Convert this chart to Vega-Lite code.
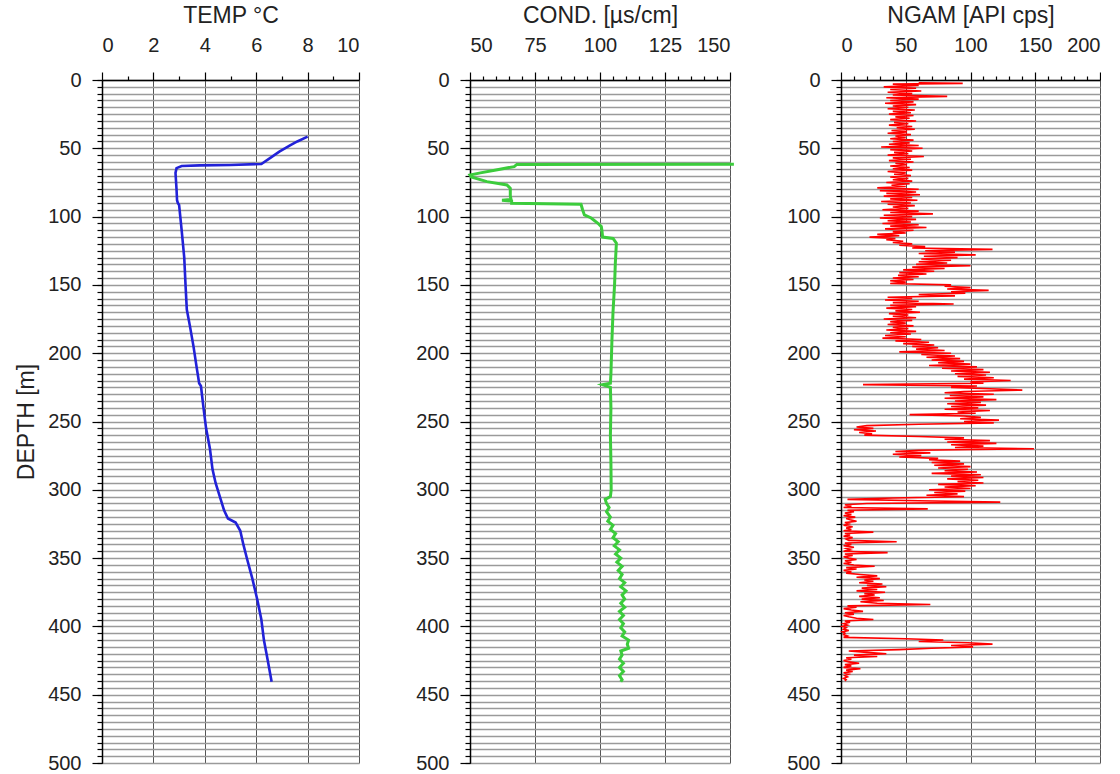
{
"$schema": "https://vega.github.io/schema/vega-lite/v6.json",
"background": "white",
"padding": {"left": 15, "top": 4, "right": 0, "bottom": 5},
"config": {"view": {"stroke": null}, "font": "Liberation Sans",
  "axis": {"domainColor": "#000", "tickColor": "#000", "labelColor": "#222", "titleColor": "#222", "labelFont": "Liberation Sans", "titleFont": "Liberation Sans", "titleFontWeight": "normal", "labelFontSize": 20, "titleFontSize": 23, "domainWidth": 1.5, "tickWidth": 1.2}},
"datasets": {
"temp": [{"d":41.5,"v":8.0},{"d":45,"v":7.6},{"d":48,"v":7.3},{"d":52.5,"v":6.9},{"d":57,"v":6.55},{"d":61.5,"v":6.2},{"d":62.2,"v":5.0},{"d":62.5,"v":3.8},{"d":63,"v":3.1},{"d":64.5,"v":2.9},{"d":68,"v":2.86},{"d":80,"v":2.9},{"d":88,"v":2.92},{"d":90,"v":2.95},{"d":91.5,"v":3.0},{"d":110,"v":3.1},{"d":130,"v":3.2},{"d":150,"v":3.25},{"d":168,"v":3.3},{"d":180,"v":3.42},{"d":195,"v":3.56},{"d":210,"v":3.68},{"d":222,"v":3.78},{"d":224,"v":3.85},{"d":240,"v":3.95},{"d":255,"v":4.05},{"d":270,"v":4.2},{"d":285,"v":4.3},{"d":295,"v":4.42},{"d":304,"v":4.57},{"d":315,"v":4.75},{"d":321,"v":4.9},{"d":324,"v":5.2},{"d":330,"v":5.38},{"d":340,"v":5.5},{"d":351,"v":5.65},{"d":365,"v":5.85},{"d":381,"v":6.05},{"d":395,"v":6.2},{"d":410,"v":6.3},{"d":425,"v":6.45},{"d":440.5,"v":6.6}],
"cond": [{"d":61.6,"v":151.5},{"d":61.8,"v":68},{"d":63.4,"v":67},{"d":65.9,"v":60},{"d":68,"v":54},{"d":69.5,"v":50},{"d":71,"v":50.5},{"d":74.4,"v":56.5},{"d":76.8,"v":64.2},{"d":79.3,"v":65.5},{"d":85,"v":65.5},{"d":87.5,"v":65.8},{"d":88,"v":62.3},{"d":88.6,"v":66},{"d":90.2,"v":66},{"d":91,"v":92.7},{"d":95,"v":93.3},{"d":98.8,"v":94},{"d":101,"v":96.6},{"d":104.9,"v":99.2},{"d":107.3,"v":100.5},{"d":111,"v":100.8},{"d":115,"v":101},{"d":116,"v":105},{"d":119.5,"v":106.3},{"d":134,"v":105.9},{"d":150,"v":105.6},{"d":170,"v":105},{"d":190,"v":104.6},{"d":215,"v":104.2},{"d":222,"v":104},{"d":223,"v":101},{"d":225,"v":104},{"d":240,"v":104.2},{"d":260,"v":104},{"d":280,"v":104.2},{"d":300,"v":104.3},{"d":305,"v":104},{"d":307,"v":102},{"d":310,"v":102.5},{"d":313,"v":103.5},{"d":316,"v":102.5},{"d":320,"v":104},{"d":323,"v":103},{"d":326,"v":105},{"d":329,"v":104},{"d":332,"v":106},{"d":335,"v":105},{"d":338,"v":107},{"d":341,"v":105.5},{"d":344,"v":107.5},{"d":347,"v":106},{"d":350,"v":108},{"d":353,"v":106.5},{"d":356,"v":108.5},{"d":359,"v":107},{"d":362,"v":108.5},{"d":365,"v":107.5},{"d":368,"v":109.5},{"d":371,"v":108},{"d":374,"v":110},{"d":377,"v":108.5},{"d":380,"v":109.5},{"d":383,"v":108},{"d":386,"v":109.5},{"d":389,"v":107.5},{"d":392,"v":109},{"d":395,"v":107.5},{"d":398,"v":109},{"d":401,"v":108},{"d":404,"v":109.5},{"d":407,"v":108.5},{"d":410,"v":111},{"d":413,"v":110.5},{"d":416,"v":111},{"d":418,"v":108},{"d":421,"v":108.5},{"d":424,"v":107.5},{"d":427,"v":109},{"d":430,"v":107.5},{"d":433,"v":109},{"d":436,"v":107.5},{"d":439,"v":108.5},{"d":440.5,"v":108}],
"ngam": [{"d":2,"v":60},{"d":2.5,"v":94},{"d":3,"v":40},{"d":4,"v":60},{"d":5,"v":33},{"d":6,"v":58},{"d":7,"v":38},{"d":8,"v":62},{"d":9,"v":36},{"d":10,"v":55},{"d":11,"v":40},{"d":12,"v":82},{"d":13,"v":35},{"d":14,"v":60},{"d":15,"v":38},{"d":16,"v":56},{"d":17,"v":34},{"d":18,"v":58},{"d":19,"v":40},{"d":20,"v":52},{"d":21,"v":36},{"d":22,"v":57},{"d":23,"v":40},{"d":24,"v":54},{"d":25,"v":37},{"d":26,"v":56},{"d":27,"v":42},{"d":28,"v":53},{"d":29,"v":38},{"d":30,"v":58},{"d":31,"v":41},{"d":32,"v":52},{"d":33,"v":37},{"d":34,"v":55},{"d":35,"v":43},{"d":36,"v":57},{"d":37,"v":39},{"d":38,"v":51},{"d":39,"v":36},{"d":40,"v":54},{"d":41,"v":42},{"d":42,"v":50},{"d":43,"v":38},{"d":44,"v":56},{"d":45,"v":40},{"d":46,"v":53},{"d":47,"v":37},{"d":48,"v":60},{"d":49,"v":31},{"d":50,"v":63},{"d":51,"v":38},{"d":52,"v":55},{"d":53,"v":41},{"d":54,"v":52},{"d":55,"v":36},{"d":56,"v":64},{"d":57,"v":40},{"d":58,"v":54},{"d":59,"v":37},{"d":60,"v":56},{"d":61,"v":42},{"d":62,"v":51},{"d":63,"v":38},{"d":64,"v":53},{"d":65,"v":40},{"d":66,"v":55},{"d":67,"v":36},{"d":68,"v":50},{"d":69,"v":41},{"d":70,"v":54},{"d":71,"v":38},{"d":72,"v":52},{"d":73,"v":40},{"d":74,"v":55},{"d":75,"v":35},{"d":76,"v":53},{"d":77,"v":39},{"d":78,"v":50},{"d":79,"v":28},{"d":80,"v":60},{"d":81,"v":30},{"d":82,"v":58},{"d":83,"v":35},{"d":84,"v":61},{"d":85,"v":33},{"d":86,"v":55},{"d":87,"v":38},{"d":88,"v":59},{"d":89,"v":31},{"d":90,"v":54},{"d":91,"v":36},{"d":92,"v":57},{"d":93,"v":40},{"d":94,"v":52},{"d":95,"v":32},{"d":96,"v":60},{"d":97,"v":38},{"d":98,"v":71},{"d":99,"v":33},{"d":100,"v":55},{"d":101,"v":30},{"d":102,"v":58},{"d":103,"v":36},{"d":104,"v":54},{"d":105,"v":32},{"d":106,"v":60},{"d":107,"v":38},{"d":108,"v":66},{"d":109,"v":34},{"d":110,"v":56},{"d":111,"v":40},{"d":112,"v":50},{"d":113,"v":28},{"d":114,"v":45},{"d":115,"v":22},{"d":116,"v":42},{"d":117,"v":35},{"d":118,"v":48},{"d":119,"v":40},{"d":120,"v":55},{"d":121,"v":45},{"d":122,"v":65},{"d":123,"v":55},{"d":124,"v":117},{"d":125,"v":65},{"d":126,"v":88},{"d":127,"v":60},{"d":128,"v":104},{"d":129,"v":64},{"d":130,"v":90},{"d":131,"v":62},{"d":132,"v":85},{"d":133,"v":60},{"d":134,"v":82},{"d":135,"v":58},{"d":136,"v":100},{"d":137,"v":55},{"d":138,"v":80},{"d":139,"v":48},{"d":140,"v":72},{"d":141,"v":45},{"d":142,"v":66},{"d":143,"v":44},{"d":144,"v":60},{"d":145,"v":40},{"d":146,"v":56},{"d":147,"v":38},{"d":148,"v":50},{"d":149,"v":38},{"d":150,"v":85},{"d":151,"v":80},{"d":152,"v":100},{"d":153,"v":82},{"d":154,"v":114},{"d":155,"v":85},{"d":156,"v":96},{"d":157,"v":60},{"d":158,"v":88},{"d":159,"v":36},{"d":160,"v":55},{"d":161,"v":34},{"d":162,"v":60},{"d":163,"v":40},{"d":164,"v":87},{"d":165,"v":38},{"d":166,"v":58},{"d":167,"v":35},{"d":168,"v":55},{"d":169,"v":42},{"d":170,"v":61},{"d":171,"v":37},{"d":172,"v":52},{"d":173,"v":40},{"d":174,"v":58},{"d":175,"v":33},{"d":176,"v":55},{"d":177,"v":38},{"d":178,"v":50},{"d":179,"v":36},{"d":180,"v":56},{"d":181,"v":40},{"d":182,"v":52},{"d":183,"v":35},{"d":184,"v":58},{"d":185,"v":38},{"d":186,"v":54},{"d":187,"v":34},{"d":188,"v":50},{"d":189,"v":32},{"d":190,"v":62},{"d":191,"v":42},{"d":192,"v":68},{"d":193,"v":48},{"d":194,"v":72},{"d":195,"v":55},{"d":196,"v":75},{"d":197,"v":58},{"d":198,"v":80},{"d":199,"v":45},{"d":200,"v":85},{"d":201,"v":62},{"d":202,"v":88},{"d":203,"v":66},{"d":204,"v":92},{"d":205,"v":70},{"d":206,"v":95},{"d":207,"v":75},{"d":208,"v":100},{"d":209,"v":68},{"d":210,"v":105},{"d":211,"v":78},{"d":212,"v":110},{"d":213,"v":85},{"d":214,"v":115},{"d":215,"v":88},{"d":216,"v":112},{"d":217,"v":90},{"d":218,"v":118},{"d":219,"v":95},{"d":220,"v":131},{"d":221,"v":100},{"d":222,"v":110},{"d":223,"v":17},{"d":224,"v":105},{"d":225,"v":85},{"d":226,"v":115},{"d":227,"v":140},{"d":228,"v":95},{"d":229,"v":80},{"d":230,"v":118},{"d":231,"v":84},{"d":232,"v":110},{"d":233,"v":80},{"d":234,"v":120},{"d":235,"v":88},{"d":236,"v":108},{"d":237,"v":82},{"d":238,"v":112},{"d":239,"v":85},{"d":240,"v":106},{"d":241,"v":80},{"d":242,"v":115},{"d":243,"v":90},{"d":244,"v":104},{"d":245,"v":53},{"d":246,"v":95},{"d":247,"v":108},{"d":248,"v":92},{"d":249,"v":122},{"d":250,"v":95},{"d":251,"v":118},{"d":252,"v":60},{"d":253,"v":20},{"d":254,"v":12},{"d":255,"v":25},{"d":256,"v":10},{"d":257,"v":27},{"d":258,"v":14},{"d":259,"v":24},{"d":260,"v":18},{"d":261,"v":60},{"d":262,"v":95},{"d":263,"v":80},{"d":264,"v":115},{"d":265,"v":82},{"d":266,"v":120},{"d":267,"v":85},{"d":268,"v":110},{"d":269,"v":88},{"d":270,"v":149},{"d":271,"v":60},{"d":272,"v":42},{"d":273,"v":69},{"d":274,"v":40},{"d":275,"v":62},{"d":276,"v":45},{"d":277,"v":75},{"d":278,"v":68},{"d":279,"v":92},{"d":280,"v":70},{"d":281,"v":95},{"d":282,"v":72},{"d":283,"v":100},{"d":284,"v":75},{"d":285,"v":98},{"d":286,"v":80},{"d":287,"v":105},{"d":288,"v":70},{"d":289,"v":108},{"d":290,"v":85},{"d":291,"v":110},{"d":292,"v":82},{"d":293,"v":106},{"d":294,"v":90},{"d":295,"v":110},{"d":296,"v":75},{"d":297,"v":104},{"d":298,"v":80},{"d":299,"v":100},{"d":300,"v":68},{"d":301,"v":96},{"d":302,"v":72},{"d":303,"v":90},{"d":304,"v":66},{"d":305,"v":95},{"d":306,"v":40},{"d":307,"v":5},{"d":308,"v":60},{"d":309,"v":123},{"d":310,"v":20},{"d":311,"v":3},{"d":312,"v":8},{"d":313,"v":2},{"d":314,"v":67},{"d":315,"v":5},{"d":316,"v":10},{"d":317,"v":3},{"d":318,"v":8},{"d":319,"v":2},{"d":320,"v":11},{"d":321,"v":4},{"d":322,"v":7},{"d":323,"v":12},{"d":324,"v":3},{"d":325,"v":6},{"d":326,"v":2},{"d":327,"v":9},{"d":328,"v":4},{"d":329,"v":8},{"d":330,"v":2},{"d":331,"v":25},{"d":332,"v":3},{"d":333,"v":7},{"d":334,"v":2},{"d":335,"v":9},{"d":336,"v":4},{"d":337,"v":6},{"d":338,"v":43},{"d":339,"v":3},{"d":340,"v":8},{"d":341,"v":2},{"d":342,"v":10},{"d":343,"v":4},{"d":344,"v":7},{"d":345,"v":2},{"d":346,"v":36},{"d":347,"v":3},{"d":348,"v":9},{"d":349,"v":2},{"d":350,"v":6},{"d":351,"v":12},{"d":352,"v":3},{"d":353,"v":8},{"d":354,"v":2},{"d":355,"v":10},{"d":356,"v":26},{"d":357,"v":4},{"d":358,"v":12},{"d":359,"v":2},{"d":360,"v":8},{"d":361,"v":4},{"d":362,"v":15},{"d":363,"v":28},{"d":364,"v":12},{"d":365,"v":30},{"d":366,"v":18},{"d":367,"v":25},{"d":368,"v":14},{"d":369,"v":32},{"d":370,"v":20},{"d":371,"v":35},{"d":372,"v":16},{"d":373,"v":28},{"d":374,"v":12},{"d":375,"v":34},{"d":376,"v":18},{"d":377,"v":26},{"d":378,"v":14},{"d":379,"v":30},{"d":380,"v":16},{"d":381,"v":33},{"d":382,"v":15},{"d":383,"v":28},{"d":384,"v":69},{"d":385,"v":5},{"d":386,"v":12},{"d":387,"v":2},{"d":388,"v":8},{"d":389,"v":17},{"d":390,"v":3},{"d":391,"v":10},{"d":392,"v":2},{"d":393,"v":6},{"d":394,"v":12},{"d":395,"v":25},{"d":396,"v":3},{"d":397,"v":7},{"d":398,"v":2},{"d":399,"v":5},{"d":400,"v":1},{"d":401,"v":4},{"d":402,"v":2},{"d":403,"v":6},{"d":404,"v":1},{"d":405,"v":3},{"d":406,"v":2},{"d":407,"v":5},{"d":408,"v":2},{"d":409,"v":50},{"d":410,"v":79},{"d":411,"v":60},{"d":412,"v":98},{"d":413,"v":117},{"d":414,"v":85},{"d":415,"v":102},{"d":416,"v":70},{"d":417,"v":45},{"d":418,"v":6},{"d":419,"v":20},{"d":420,"v":35},{"d":421,"v":10},{"d":422,"v":28},{"d":423,"v":4},{"d":424,"v":8},{"d":425,"v":2},{"d":426,"v":6},{"d":427,"v":14},{"d":428,"v":3},{"d":429,"v":8},{"d":430,"v":2},{"d":431,"v":15},{"d":432,"v":4},{"d":433,"v":9},{"d":434,"v":2},{"d":435,"v":6},{"d":436,"v":3},{"d":437,"v":5},{"d":438,"v":2},{"d":439,"v":4},{"d":440,"v":3}]
},
"spacing": 111,
"bounds": "flush",
"hconcat": [
{"width": 257, "height": 683, "data": {"name": "temp"},
 "layer": [
  {"mark": {"type": "line", "opacity": 0},
   "encoding": {
    "x": {"field": "v", "type": "quantitative", "scale": {"domain": [0, 10], "nice": false, "zero": false},
      "axis": {"orient": "top", "values": [1,3,5,7,9], "labels": false, "domain": false, "grid": false, "tickSize": 4, "title": null}},
    "y": {"field": "d", "type": "quantitative", "scale": {"domain": [0, 500], "reverse": true, "nice": false, "zero": false},
      "axis": {"orient": "left", "values": [0,5,10,15,20,25,30,35,40,45,50,55,60,65,70,75,80,85,90,95,100,105,110,115,120,125,130,135,140,145,150,155,160,165,170,175,180,185,190,195,200,205,210,215,220,225,230,235,240,245,250,255,260,265,270,275,280,285,290,295,300,305,310,315,320,325,330,335,340,345,350,355,360,365,370,375,380,385,390,395,400,405,410,415,420,425,430,435,440,445,450,455,460,465,470,475,480,485,490,495,500], "labels": false, "domain": false, "grid": true, "gridColor": "#9a9a9a", "gridWidth": 1.3, "tickSize": 5, "title": null}},
    "order": {"field": "d"}}},
  {"mark": {"type": "line", "color": "#2222d8", "strokeWidth": 2.6},
   "encoding": {
    "x": {"field": "v", "type": "quantitative", "scale": {"domain": [0, 10], "nice": false, "zero": false},
      "axis": {"orient": "top", "values": [0,2,4,6,8,10], "grid": true, "gridColor": "#555", "gridWidth": 1, "tickSize": 8, "labelPadding": 17, "title": "TEMP  °C", "titlePadding": 8}},
    "y": {"field": "d", "type": "quantitative", "scale": {"domain": [0, 500], "reverse": true, "nice": false, "zero": false},
      "axis": {"orient": "left", "values": [0,50,100,150,200,250,300,350,400,450,500], "grid": false, "tickSize": 10, "labelPadding": 11, "title": "DEPTH  [m]", "titlePadding": 9}},
    "order": {"field": "d"}}}
 ],
 "resolve": {"axis": {"x": "independent", "y": "independent"}}
},
{"width": 260, "height": 683, "data": {"name": "cond"},
 "layer": [
  {"mark": {"type": "line", "opacity": 0},
   "encoding": {
    "x": {"field": "v", "type": "quantitative", "scale": {"domain": [50, 150], "nice": false, "zero": false},
      "axis": {"orient": "top", "values": [55,60,65,70,80,85,90,95,105,110,115,120,130,135,140,145], "labels": false, "domain": false, "grid": false, "tickSize": 4, "title": null}},
    "y": {"field": "d", "type": "quantitative", "scale": {"domain": [0, 500], "reverse": true, "nice": false, "zero": false},
      "axis": {"orient": "left", "values": [0,5,10,15,20,25,30,35,40,45,50,55,60,65,70,75,80,85,90,95,100,105,110,115,120,125,130,135,140,145,150,155,160,165,170,175,180,185,190,195,200,205,210,215,220,225,230,235,240,245,250,255,260,265,270,275,280,285,290,295,300,305,310,315,320,325,330,335,340,345,350,355,360,365,370,375,380,385,390,395,400,405,410,415,420,425,430,435,440,445,450,455,460,465,470,475,480,485,490,495,500], "labels": false, "domain": false, "grid": true, "gridColor": "#9a9a9a", "gridWidth": 1.3, "tickSize": 5, "title": null}},
    "order": {"field": "d"}}},
  {"mark": {"type": "line", "color": "#3ccc3c", "strokeWidth": 3},
   "encoding": {
    "x": {"field": "v", "type": "quantitative", "scale": {"domain": [50, 150], "nice": false, "zero": false},
      "axis": {"orient": "top", "values": [50,75,100,125,150], "grid": true, "gridColor": "#555", "gridWidth": 1, "tickSize": 8, "labelPadding": 17, "title": "COND. [µs/cm]", "titlePadding": 8}},
    "y": {"field": "d", "type": "quantitative", "scale": {"domain": [0, 500], "reverse": true, "nice": false, "zero": false},
      "axis": {"orient": "left", "values": [0,50,100,150,200,250,300,350,400,450,500], "grid": false, "tickSize": 10, "labelPadding": 11, "title": null}},
    "order": {"field": "d"}}}
 ],
 "resolve": {"axis": {"x": "independent", "y": "independent"}}
},
{"width": 259, "height": 683, "data": {"name": "ngam"},
 "layer": [
  {"mark": {"type": "line", "opacity": 0},
   "encoding": {
    "x": {"field": "v", "type": "quantitative", "scale": {"domain": [0, 200], "nice": false, "zero": false},
      "axis": {"orient": "top", "values": [10,20,30,40,60,70,80,90,110,120,130,140,160,170,180,190], "labels": false, "domain": false, "grid": false, "tickSize": 4, "title": null}},
    "y": {"field": "d", "type": "quantitative", "scale": {"domain": [0, 500], "reverse": true, "nice": false, "zero": false},
      "axis": {"orient": "left", "values": [0,5,10,15,20,25,30,35,40,45,50,55,60,65,70,75,80,85,90,95,100,105,110,115,120,125,130,135,140,145,150,155,160,165,170,175,180,185,190,195,200,205,210,215,220,225,230,235,240,245,250,255,260,265,270,275,280,285,290,295,300,305,310,315,320,325,330,335,340,345,350,355,360,365,370,375,380,385,390,395,400,405,410,415,420,425,430,435,440,445,450,455,460,465,470,475,480,485,490,495,500], "labels": false, "domain": false, "grid": true, "gridColor": "#9a9a9a", "gridWidth": 1.3, "tickSize": 5, "title": null}},
    "order": {"field": "d"}}},
  {"mark": {"type": "line", "color": "#ff0000", "strokeWidth": 1.6},
   "encoding": {
    "x": {"field": "v", "type": "quantitative", "scale": {"domain": [0, 200], "nice": false, "zero": false},
      "axis": {"orient": "top", "values": [0,50,100,150,200], "grid": true, "gridColor": "#555", "gridWidth": 1, "tickSize": 8, "labelPadding": 17, "title": "NGAM [API cps]", "titlePadding": 8}},
    "y": {"field": "d", "type": "quantitative", "scale": {"domain": [0, 500], "reverse": true, "nice": false, "zero": false},
      "axis": {"orient": "left", "values": [0,50,100,150,200,250,300,350,400,450,500], "grid": false, "tickSize": 10, "labelPadding": 11, "title": null}},
    "order": {"field": "d"}}}
 ],
 "resolve": {"axis": {"x": "independent", "y": "independent"}}
}
]
}
